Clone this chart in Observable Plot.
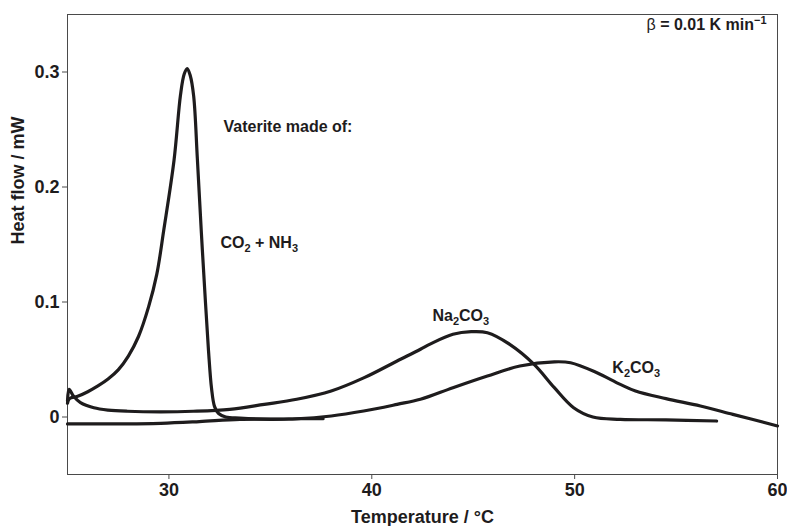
<!DOCTYPE html>
<html>
<head>
<meta charset="utf-8">
<script src="https://cdn.jsdelivr.net/npm/d3@7"></script>
<script src="https://cdn.jsdelivr.net/npm/@observablehq/plot@0.6"></script>
<style>
  html, body { margin: 0; padding: 0; background: #fff; }
  #chart { width: 787px; height: 526px; }
</style>
</head>
<body>
<div id="chart"></div>
<script>
// Temperature (°C) and heat flow (mW)
const tCO2 = [25.0, 25.1, 25.5, 26.0, 26.5, 27.0, 27.5, 28.0, 28.5, 29.0, 29.4, 29.75, 30.25, 30.57, 30.75, 30.9, 31.05, 31.22, 31.4, 31.6, 31.8, 31.95, 32.1, 32.25, 32.45, 32.8, 33.5, 35.0, 36.5, 37.6];
const vCO2 = [0.012, 0.016, 0.018, 0.022, 0.027, 0.033, 0.041, 0.053, 0.070, 0.096, 0.124, 0.163, 0.223, 0.280, 0.298, 0.303, 0.297, 0.279, 0.225, 0.160, 0.100, 0.058, 0.025, 0.009, 0.003, 0.000, -0.001, -0.002, -0.0015, -0.0015];

const tNa = [25.0, 25.08, 25.3, 25.64, 26.3, 27.0, 27.95, 29.6, 31.2, 33.0, 34.7, 36.3, 38.0, 39.6, 41.25, 42.4, 42.9, 44.0, 44.9, 45.7, 46.8, 48.0, 49.0, 49.95, 50.9, 52.25, 54.5, 57.0];
const vNa = [0.014, 0.024, 0.018, 0.0125, 0.008, 0.006, 0.005, 0.0045, 0.005, 0.0067, 0.011, 0.0154, 0.0226, 0.034, 0.0487, 0.0589, 0.0636, 0.0719, 0.0742, 0.0733, 0.0632, 0.0458, 0.0255, 0.0081, 0.000, -0.002, -0.0025, -0.0035];

const tK = [25.0, 27.0, 29.6, 31.5, 33.5, 36.3, 38.0, 39.6, 41.25, 42.4, 44.0, 45.7, 47.3, 49.0, 49.8, 51.1, 52.25, 53.0, 54.5, 56.2, 57.8, 60.0];
const vK = [-0.006, -0.006, -0.0055, -0.004, -0.002, -0.0015, 0.0009, 0.0052, 0.011, 0.0154, 0.0255, 0.0357, 0.0443, 0.048, 0.0472, 0.0385, 0.0284, 0.0226, 0.0160, 0.0096, 0.0023, -0.0078];

const xTicks = [30, 40, 50, 60];
const yTicks = [0, 0.1, 0.2, 0.3];

// annotation labels: [text, T, heat flow]
const annText = ["Vaterite made of:", "CO2 + NH3", "Na2CO3", "K2CO3"];
const annT = [32.69, 32.54, 42.99, 51.86];
const annV = [0.252, 0.151, 0.0878, 0.0426];

const series = [
  {name: "CO2 + NH3", t: tCO2, v: vCO2},
  {name: "Na2CO3", t: tNa, v: vNa},
  {name: "K2CO3", t: tK, v: vK}
];
const rows = series.flatMap(s => s.t.map((t, i) => ({series: s.name, T: t, H: s.v[i]})));
const ann = annText.map((text, i) => ({text, T: annT[i], H: annV[i]}));

const ink = "#1e1c1d";
const font = "'Liberation Sans', Arial, Helvetica, sans-serif";

const plot = Plot.plot({
  width: 787,
  height: 526,
  marginLeft: 67,
  marginRight: 10,
  marginTop: 14,
  marginBottom: 52,
  style: {fontFamily: font, fontWeight: "bold", fontSize: "18px", color: ink, background: "#fff"},
  x: {domain: [25, 60]},
  y: {domain: [-0.05, 0.35]},
  marks: [
    Plot.frame({stroke: "#4a4a4a", strokeWidth: 1}),
    Plot.axisX({ticks: xTicks, tickSize: 5, tickPadding: 4, label: null, stroke: "#4a4a4a", fill: ink, tickFormat: d => String(d)}),
    Plot.axisY({ticks: yTicks, tickSize: 5, tickPadding: 3, label: null, stroke: "#4a4a4a", fill: ink, tickFormat: d => d === 0 ? "0" : d.toFixed(1)}),
    Plot.line(rows, {x: "T", y: "H", z: "series", stroke: ink, strokeWidth: 3.2, curve: "catmull-rom", strokeLinejoin: "round", strokeLinecap: "round"}),
    Plot.text(ann, {x: "T", y: "H", text: "text", textAnchor: "start", fontSize: 16, fontWeight: "bold", fill: ink}),
    Plot.text(["β = 0.01 K min-1"], {frameAnchor: "top-right", dx: -11, dy: 10, lineAnchor: "middle", textAnchor: "end", fontSize: 16, fontWeight: "bold", fill: ink}),
    Plot.text(["Temperature / °C"], {frameAnchor: "bottom", dy: 43, lineAnchor: "middle", fontSize: 18, fontWeight: "bold", fill: ink}),
    Plot.text(["Heat flow / mW"], {frameAnchor: "left", dx: -49, rotate: -90, lineAnchor: "middle", fontSize: 18, fontWeight: "bold", fill: ink})
  ]
});

// rich text: subscripts / superscript
const rich = {
  "CO2 + NH3": [["CO"], ["2", "sub"], [" + NH"], ["3", "sub"]],
  "Na2CO3": [["Na"], ["2", "sub"], ["CO"], ["3", "sub"]],
  "K2CO3": [["K"], ["2", "sub"], ["CO"], ["3", "sub"]],
  "β = 0.01 K min-1": [["β", "normal"], [" = 0.01 K min"], ["−1", "sup"]]
};
d3.select(plot).selectAll("text").each(function () {
  const parts = rich[this.textContent];
  if (!parts) return;
  const el = d3.select(this);
  el.text(null);
  let shift = 0;
  for (const [s, kind] of parts) {
    const ts = el.append("tspan").text(s);
    let target = 0;
    if (kind === "sub") { ts.attr("font-size", 11); target = 4; }
    else if (kind === "sup") { ts.attr("font-size", 11); target = -6; }
    else if (kind === "normal") { ts.attr("font-weight", "normal"); }
    if (target !== shift) { ts.attr("dy", target - shift); shift = target; }
  }
});

document.getElementById("chart").appendChild(plot);
</script>
</body>
</html>
